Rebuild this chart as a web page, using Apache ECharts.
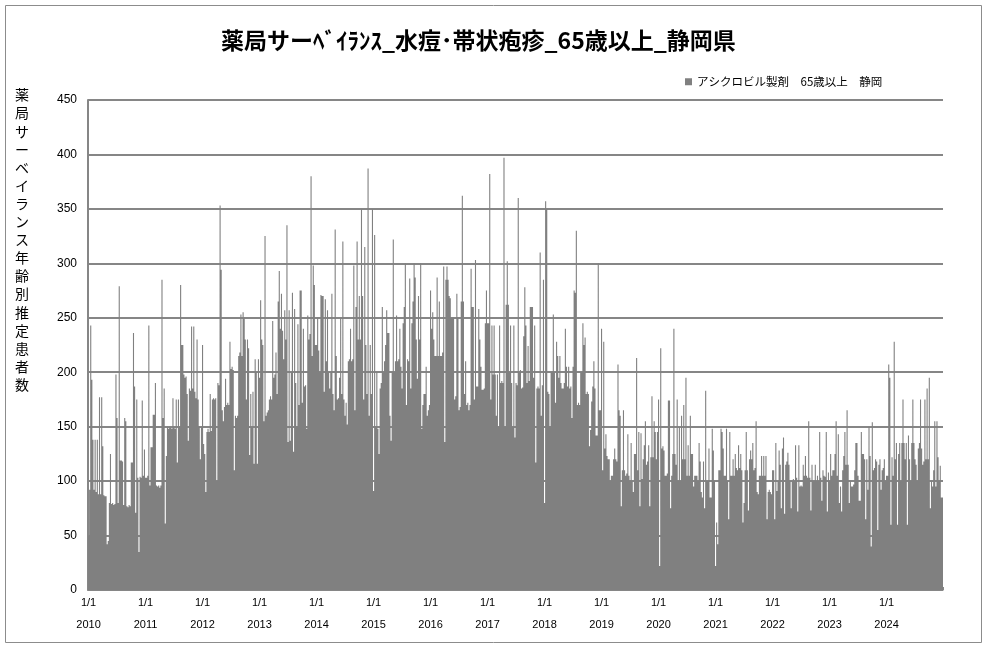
<!DOCTYPE html>
<html><head><meta charset="utf-8">
<script src="https://cdn.jsdelivr.net/npm/echarts@6/dist/echarts.min.js"></script>
<style>html,body{margin:0;padding:0;background:#fff}#c{width:987px;height:648px}</style>
</head><body><div id="c"></div>
<script>
const years = [2010,2011,2012,2013,2014,2015,2016,2017,2018,2019,2020,2021,2022,2023,2024];
const yTicks = [0,50,100,150,200,250,300,350,400,450];
const seriesName = 'アシクロビル製剤　65歳以上　静岡';
const titleText = '薬局サーﾍﾞｲﾗﾝｽ_水痘･帯状疱疹_65歳以上_静岡県';
const yTitle = '薬局サーベイランス年齢別推定患者数';
// weekly values (52 per year)
const y2010 = [50,92,243,193,138,92,138,90,138,88,177,88,177,132,87,86,86,42,45,80,125,79,80,78,79,198,158,80,279,119,119,118,78,158,155,77,76,78,77,117,117,236,187,71,175,103,35,104,103,174,105,129];
const y2011 = [103,103,105,243,96,131,131,161,161,190,96,95,96,94,96,285,158,185,61,123,150,148,150,150,148,176,150,148,175,117,175,150,280,225,225,198,195,196,180,137,185,183,242,185,242,182,176,230,175,150,120,150];
const y2012 = [225,134,125,90,145,148,145,180,146,175,176,175,176,100,190,188,353,294,165,155,168,194,170,172,170,228,203,205,202,110,160,158,160,215,218,253,215,255,250,230,175,230,222,124,180,150,182,116,212,200,116,212];
const y2013 = [195,266,230,225,155,325,160,163,165,175,178,175,247,195,198,218,180,265,293,240,272,238,212,257,230,335,136,257,137,200,273,127,258,190,150,244,170,275,275,172,240,187,188,148,252,230,235,380,215,298,280,225];
const y2014 = [225,250,220,200,271,270,270,182,267,210,257,200,185,200,272,180,165,331,215,175,176,195,250,180,320,175,160,172,152,210,212,240,210,212,298,165,260,320,230,270,230,350,270,175,315,225,180,387,160,225,180,350];
const y2015 = [91,326,150,200,148,125,185,190,260,200,210,225,257,236,236,160,137,200,322,200,210,252,210,212,240,205,185,245,260,300,170,212,210,286,185,245,265,300,287,230,194,270,230,300,148,170,180,180,205,160,165,170];
const y2016 = [275,240,255,230,215,215,287,215,265,215,215,218,297,136,285,297,285,270,268,250,250,250,175,178,272,250,165,168,265,362,265,180,210,170,172,165,170,295,260,260,175,303,187,187,258,230,205,184,184,185,245,275];
const y2017 = [245,245,382,175,243,198,243,198,160,198,150,243,190,192,190,397,150,262,302,262,200,243,190,150,243,140,190,188,360,200,202,185,186,233,278,243,190,224,192,260,260,260,195,243,117,185,187,185,310,160,188,285];
const y2018 = [80,357,350,182,180,150,200,200,253,200,172,228,215,195,215,190,185,185,190,240,205,187,205,185,187,158,205,275,273,330,170,172,170,200,200,245,225,232,180,182,180,132,147,173,187,210,185,142,142,300,165,165];
const y2019 = [240,110,228,130,143,123,120,120,100,105,105,120,130,120,118,207,165,160,77,110,165,110,105,107,143,105,100,135,100,90,125,125,213,110,145,77,144,102,120,133,155,115,118,133,77,122,178,122,155,145,120,145];
const y2020 = [175,22,222,130,132,128,105,105,107,174,174,75,105,125,240,125,115,175,100,150,100,160,120,170,120,195,105,133,105,160,125,125,95,105,105,105,100,135,118,90,85,118,75,183,100,100,130,85,85,148,128,100];
const y2021 = [22,62,42,110,110,148,145,130,105,105,148,100,65,145,105,105,120,105,125,112,110,133,112,125,110,62,80,110,145,110,73,120,128,120,135,110,112,155,90,88,105,105,123,105,123,105,123,65,90,92,90,88];
const y2022 = [110,110,65,135,91,100,128,115,75,130,140,70,115,118,126,115,100,75,100,102,100,133,103,72,133,95,96,95,115,105,123,105,103,155,103,73,115,100,100,115,100,105,100,145,103,82,110,105,104,145,72,108];
const y2023 = [100,125,105,110,110,125,155,105,143,80,95,72,110,123,145,115,165,115,80,100,95,95,97,110,135,135,105,82,82,145,125,125,120,65,120,92,150,123,40,154,110,112,120,118,55,115,120,92,110,112,120,100];
const y2024 = [105,105,207,195,60,122,105,228,120,135,60,125,135,100,135,175,135,120,135,60,142,120,100,135,175,135,120,115,100,130,135,175,130,115,118,175,120,185,120,195,75,100,95,110,155,95,155,122,100,114,85,85];

const yearData = [y2010,y2011,y2012,y2013,y2014,y2015,y2016,y2017,y2018,y2019,y2020,y2021,y2022,y2023,y2024];
const categories = [];
const values = [];
const yearStart = {};
yearData.forEach((arr, yi) => {
  arr.forEach((v, wi) => {
    const idx = categories.length;
    if (wi === 0) yearStart[idx] = years[yi];
    categories.push(years[yi] + '-W' + (wi + 1));
    values.push(v);
  });
});

const chart = echarts.init(document.getElementById('c'));
chart.setOption({
  animation: false,
  backgroundColor: '#fff',
  title: {
    text: titleText, left: 216, top: 24,
    textStyle: {fontFamily: 'Noto Sans CJK JP', fontSize: 23, fontWeight: 'bold', color: '#000'}
  },
  legend: {
    data: [seriesName], left: 680, top: 71, icon: 'rect', itemWidth: 7, itemHeight: 7, itemGap: 4,
    textStyle: {fontFamily: 'Noto Sans CJK JP', fontSize: 11.5, color: '#000'}
  },
  grid: {left: 88, right: 44, top: 100, bottom: 58, containLabel: false},
  xAxis: {
    type: 'category', data: categories, boundaryGap: true,
    axisLine: {lineStyle: {color: '#868686', width: 1}},
    axisTick: {show: true, inside: true, length: 3, alignWithLabel: false,
      interval: (i) => yearStart[i] !== undefined, lineStyle: {color: '#868686'}},
    axisLabel: {
      interval: (i) => yearStart[i] !== undefined,
      formatter: (val, i) => '1/1\n' + yearStart[i],
      fontFamily: 'Liberation Sans', fontSize: 11, color: '#000', lineHeight: 22, margin: 2
    },
    splitLine: {show: false}
  },
  yAxis: {
    type: 'value', min: yTicks[0], max: yTicks[yTicks.length - 1], interval: 50,
    axisLine: {show: true, lineStyle: {color: '#868686', width: 2}},
    axisTick: {show: false},
    axisLabel: {fontFamily: 'Liberation Sans', fontSize: 12, color: '#000', margin: 11},
    splitLine: {show: true, lineStyle: {color: '#868686', width: 2}}
  },
  series: [{
    name: seriesName, type: 'bar', data: values,
    large: true, largeThreshold: 100,
    barWidth: '100%', barGap: '0%', barCategoryGap: '0%',
    itemStyle: {color: '#808080'}, z: 3
  }],
  graphic: [
    {type: 'rect', shape: {x: 5.5, y: 5.5, width: 976, height: 637}, style: {fill: 'none', stroke: '#8c8c8c', lineWidth: 1}, silent: true},
    {type: 'text', left: 15, top: 86, style: {
      text: yTitle.split('').join('\n'), fontFamily: 'Noto Sans CJK JP', fontSize: 14, lineHeight: 18.1, fill: '#000', align: 'center'}}
  ]
});
</script></body></html>
